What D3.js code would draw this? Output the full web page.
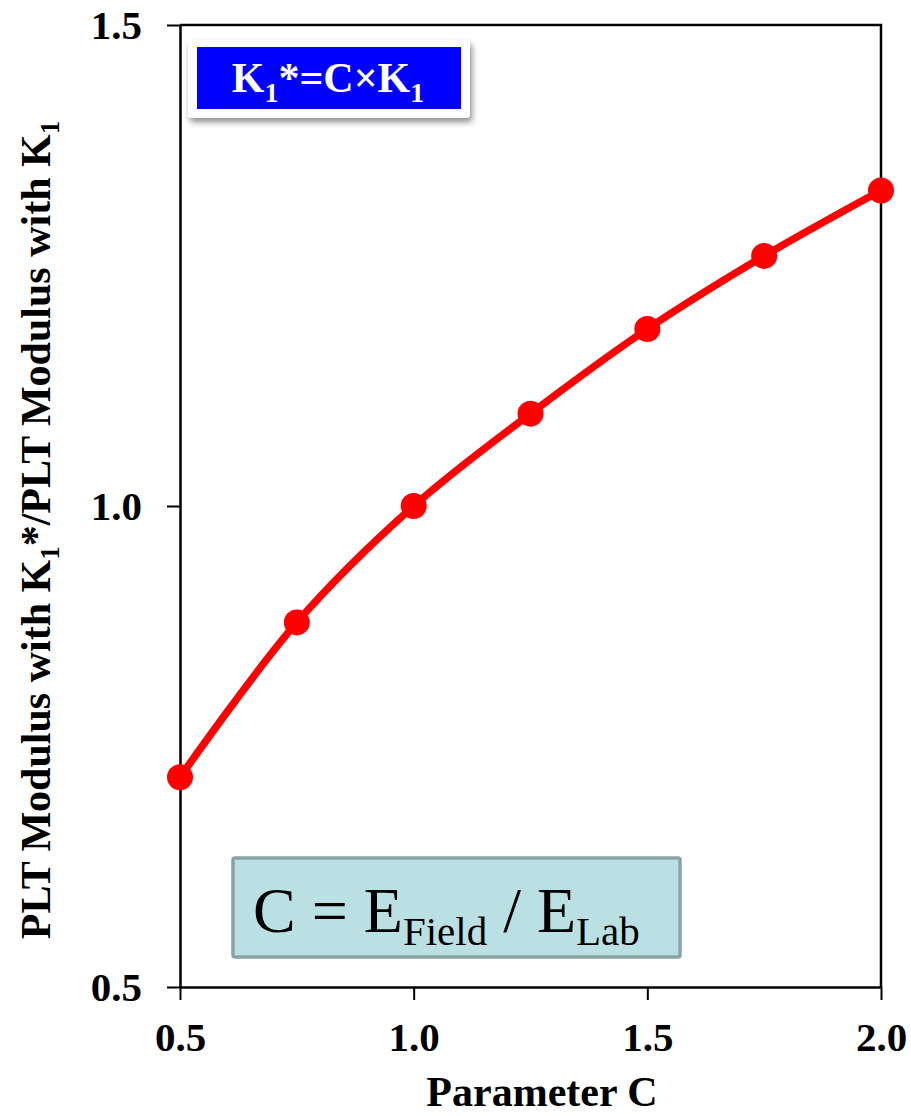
<!DOCTYPE html>
<html>
<head>
<meta charset="utf-8">
<script src="https://cdn.jsdelivr.net/npm/d3@7"></script>
<style>
  html, body { margin: 0; padding: 0; background: #fff; }
  svg { display: block; }
  text { font-family: "Liberation Serif", "Times New Roman", Times, serif; }
</style>
</head>
<body>
<svg id="chart" width="911" height="1116"></svg>
<script>
// Parameter C values and the resulting modulus ratio
const paramC = [0.5, 0.75, 1.0, 1.25, 1.5, 1.75, 2.0];
const modulusRatio = [0.718, 0.879, 1.0, 1.096, 1.184, 1.260, 1.328];
const xTicks = [0.5, 1.0, 1.5, 2.0];
const yTicks = [0.5, 1.0, 1.5];

const svg = d3.select("#chart");
const plot = { left: 180, right: 881, top: 25, bottom: 987 };

const x = d3.scaleLinear().domain([0.5, 2.0]).range([plot.left, plot.right]);
const y = d3.scaleLinear().domain([0.5, 1.5]).range([plot.bottom, plot.top]);

const points = paramC.map((c, i) => ({ c, v: modulusRatio[i] }));

// Frame (top and right edges)
svg.append("path")
  .attr("d", `M${plot.left},${plot.top}H${plot.right}V${plot.bottom}`)
  .attr("fill", "none").attr("stroke", "#000").attr("stroke-width", 2.5);

// Axes
const xAxis = svg.append("g")
  .attr("transform", `translate(0,${plot.bottom})`)
  .call(d3.axisBottom(x).tickValues(xTicks).tickFormat(d3.format(".1f"))
    .tickSizeInner(13).tickSizeOuter(0).tickPadding(22));
const yAxis = svg.append("g")
  .attr("transform", `translate(${plot.left},0)`)
  .call(d3.axisLeft(y).tickValues(yTicks).tickFormat(d3.format(".1f"))
    .tickSizeInner(13).tickSizeOuter(0).tickPadding(25));

[xAxis, yAxis].forEach(g => {
  g.select(".domain").attr("stroke", "#000").attr("stroke-width", 2.5);
  g.selectAll(".tick line").attr("stroke", "#000").attr("stroke-width", 2);
  g.selectAll(".tick text")
    .attr("fill", "#000")
    .style("font-family", '"Liberation Serif", "Times New Roman", serif')
    .style("font-weight", "bold")
    .style("font-size", "41px");
});
yAxis.selectAll(".tick text").attr("dy", "0.34em");

// Axis titles
svg.append("text")
  .attr("x", 542).attr("y", 1106)
  .attr("text-anchor", "middle")
  .style("font-weight", "bold").style("font-size", "42px")
  .text("Parameter C");

const yTitle = svg.append("text")
  .attr("transform", "translate(50,530) rotate(-90)")
  .attr("text-anchor", "middle")
  .style("font-weight", "bold").style("font-size", "42px");
yTitle.append("tspan").text("PLT Modulus with K");
yTitle.append("tspan").attr("dy", 9).style("font-size", "27px").text("1");
yTitle.append("tspan").attr("dy", -9).text("*/PLT Modulus with K");
yTitle.append("tspan").attr("dy", 9).style("font-size", "27px").text("1");

// Smooth curve through the series
const line = d3.line()
  .x(d => x(d.c)).y(d => y(d.v))
  .curve(d3.curveCatmullRom.alpha(0.5));

svg.append("path")
  .datum(points)
  .attr("d", line)
  .attr("fill", "none")
  .attr("stroke", "#ff0000")
  .attr("stroke-width", 7.5)
  .attr("stroke-linecap", "round");

svg.append("g").selectAll("circle")
  .data(points).join("circle")
  .attr("cx", d => x(d.c)).attr("cy", d => y(d.v))
  .attr("r", 13).attr("fill", "#ff0000");

// Drop shadow for the formula badge
const defs = svg.append("defs");
const f = defs.append("filter").attr("id", "shadow")
  .attr("x", "-10%").attr("y", "-20%").attr("width", "130%").attr("height", "160%");
f.append("feDropShadow").attr("dx", 2).attr("dy", 4).attr("stdDeviation", 3)
  .attr("flood-color", "#000").attr("flood-opacity", 0.45);

// Badge: K1* = C x K1
svg.append("rect")
  .attr("x", 188).attr("y", 40).attr("width", 282).attr("height", 78)
  .attr("rx", 4).attr("fill", "#fff").attr("filter", "url(#shadow)");
svg.append("rect")
  .attr("x", 197).attr("y", 47).attr("width", 264).attr("height", 62)
  .attr("fill", "#0000ff");
const badge = svg.append("text")
  .attr("x", 328).attr("y", 92)
  .attr("text-anchor", "middle")
  .attr("fill", "#fff")
  .style("font-weight", "bold").style("font-size", "42px");
badge.append("tspan").text("K");
badge.append("tspan").attr("dy", 10).style("font-size", "28px").text("1");
badge.append("tspan").attr("dy", -10).text("*=C×K");
badge.append("tspan").attr("dy", 10).style("font-size", "28px").text("1");

// Definition box: C = E_Field / E_Lab
svg.append("rect")
  .attr("x", 233).attr("y", 858).attr("width", 447).attr("height", 99)
  .attr("rx", 2)
  .attr("fill", "#bae0e3").attr("stroke", "#88a4a6").attr("stroke-width", 3.5);
const def = svg.append("text")
  .attr("x", 253).attr("y", 932)
  .attr("fill", "#000")
  .style("font-size", "64px");
def.append("tspan").text("C = E");
def.append("tspan").attr("dy", 13).style("font-size", "41px").text("Field");
def.append("tspan").attr("dy", -13).text(" / E");
def.append("tspan").attr("dy", 13).style("font-size", "41px").text("Lab");
</script>
</body>
</html>
